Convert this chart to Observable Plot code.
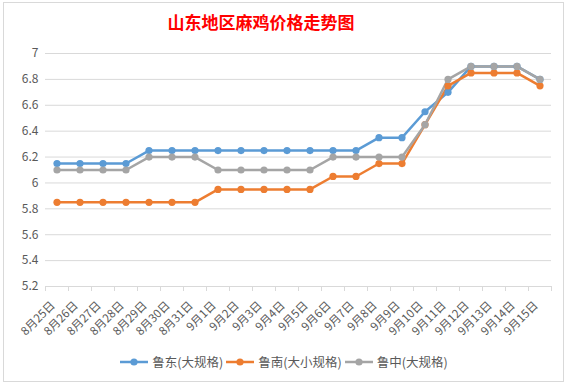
<!DOCTYPE html>
<html>
<head>
<meta charset="utf-8">
<script src="https://cdn.jsdelivr.net/npm/d3@7"></script>
<script src="https://cdn.jsdelivr.net/npm/@observablehq/plot@0.6"></script>
<style>
  html, body { margin: 0; padding: 0; background: #fff; }
  #wrap { position: relative; width: 568px; height: 386px; overflow: hidden; font-family: "Noto Sans CJK SC", "Noto Sans", sans-serif; }
  #frame { position: absolute; left: 3px; top: 2px; width: 561px; height: 380px; border: 1px solid #d9d9d9; box-sizing: border-box; }
  #chart { position: absolute; left: 0; top: 0; }
  #title { position: absolute; left: -23px; width: 568px; top: 10px; text-align: center; color: #ff0000; font-weight: bold; font-size: 17px; line-height: 24px; }
  #legend { position: absolute; left: 0; width: 568px; top: 352px; display: flex; justify-content: center; align-items: center; font-size: 12.5px; color: #595959; }
  .item { display: flex; align-items: center; margin: 0 1.5px; }
  .item svg { margin-right: 4px; }
</style>
</head>
<body>
<div id="wrap">
  <div id="frame"></div>
  <div id="chart"></div>
  <div id="title">山东地区麻鸡价格走势图</div>
  <div id="legend"></div>
</div>
<script>
const dates = ["8月25日","8月26日","8月27日","8月28日","8月29日","8月30日","8月31日",
  "9月1日","9月2日","9月3日","9月4日","9月5日","9月6日","9月7日","9月8日","9月9日",
  "9月10日","9月11日","9月12日","9月13日","9月14日","9月15日"];
const seriesNames = ["鲁东(大规格)", "鲁南(大小规格)", "鲁中(大规格)"];
const ludong  = [6.15,6.15,6.15,6.15,6.25,6.25,6.25,6.25,6.25,6.25,6.25,6.25,6.25,6.25,6.35,6.35,6.55,6.70,6.90,6.90,6.90,6.80];
const lunan   = [5.85,5.85,5.85,5.85,5.85,5.85,5.85,5.95,5.95,5.95,5.95,5.95,6.05,6.05,6.15,6.15,6.45,6.75,6.85,6.85,6.85,6.75];
const luzhong = [6.10,6.10,6.10,6.10,6.20,6.20,6.20,6.10,6.10,6.10,6.10,6.10,6.20,6.20,6.20,6.20,6.45,6.80,6.90,6.90,6.90,6.80];
const yTicks = [5.2,5.4,5.6,5.8,6,6.2,6.4,6.6,6.8,7];
const colors = ["#5B9BD5", "#ED7D31", "#A5A5A5"];

const seriesValues = [ludong, lunan, luzhong];
const rows = seriesValues.flatMap((vals, s) => vals.map((v, i) => ({i, v, s: seriesNames[s]})));
const boundaries = d3.range(dates.length + 1).map(k => k - 0.5);
const fmt = d => String(+d.toFixed(1));

const chart = Plot.plot({
  width: 568,
  height: 386,
  marginTop: 53,
  marginBottom: 100,
  marginLeft: 45,
  marginRight: 17,
  style: {fontFamily: '"Noto Sans CJK SC", "Noto Sans", sans-serif', background: "transparent"},
  x: {type: "linear", domain: [-0.5, dates.length - 0.5], label: null},
  y: {domain: [5.2, 7], label: null},
  color: {domain: seriesNames, range: colors},
  marks: [
    Plot.gridY(yTicks, {stroke: "#d9d9d9", strokeOpacity: 1, strokeWidth: 1}),
    Plot.axisY(yTicks, {tickSize: 0, tickPadding: 7, tickFormat: fmt, fill: "#595959", fontSize: 12, label: null}),
    Plot.ruleY([5.2], {stroke: "#d9d9d9", strokeWidth: 1}),
    Plot.axisX(boundaries, {tickSize: 5, stroke: "#d9d9d9", strokeOpacity: 1, tickFormat: () => "", label: null}),
    Plot.axisX(d3.range(dates.length), {tickSize: 0, tickPadding: 17, dx: -4, tickRotate: -45, tickFormat: i => dates[i], fill: "#595959", fontSize: 11.5, label: null}),
    Plot.line(rows, {x: "i", y: "v", z: "s", stroke: "s", strokeWidth: 2.5}),
    Plot.dot(rows, {x: "i", y: "v", fill: "s", r: 3.6})
  ]
});
document.getElementById("chart").appendChild(chart);

const legend = document.getElementById("legend");
seriesNames.forEach((name, k) => {
  const item = document.createElement("div");
  item.className = "item";
  item.innerHTML = `<svg width="28" height="10"><line x1="0" x2="28" y1="5" y2="5" stroke="${colors[k]}" stroke-width="2.5"/><circle cx="14" cy="5" r="3.6" fill="${colors[k]}"/></svg><span>${name}</span>`;
  legend.appendChild(item);
});
</script>
</body>
</html>
